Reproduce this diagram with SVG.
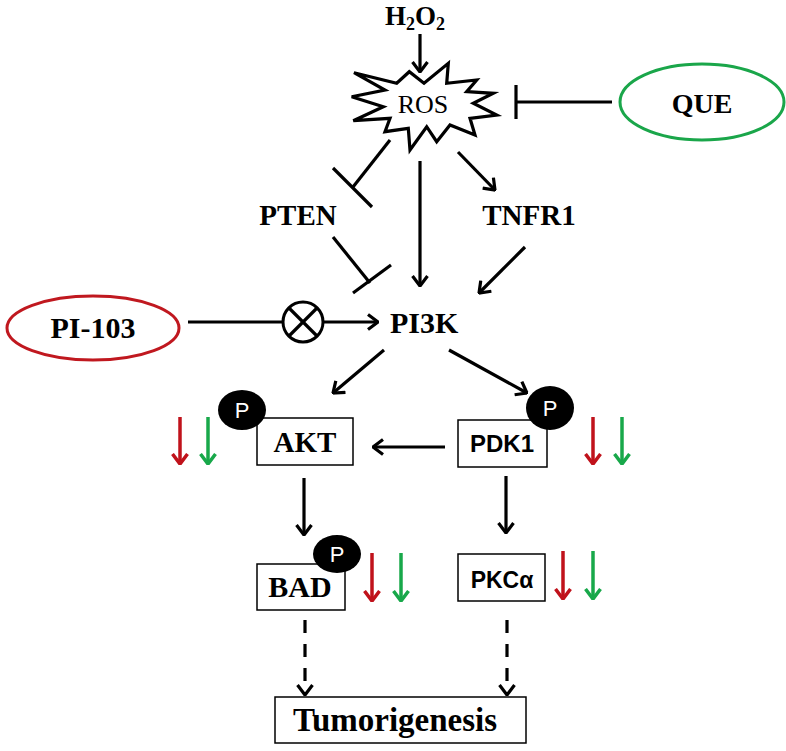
<svg xmlns="http://www.w3.org/2000/svg" width="786" height="751" viewBox="0 0 786 751">
<style>
  .lbl{font-family:"Liberation Serif","Times New Roman",serif;font-weight:bold;fill:#000;}
  .sans{font-family:"Liberation Sans",Arial,sans-serif;font-weight:bold;fill:#000;}
  .ln{stroke:#000;stroke-width:3.2;fill:none;}
  .box{fill:#fff;stroke:#000;stroke-width:1.5;}
  .pc{fill:#000;}
  .pt{font-family:"Liberation Sans",Arial,sans-serif;font-size:22px;fill:#fff;text-anchor:middle;}
  .red{stroke:#c0121b;stroke-width:3.5;fill:none;}
  .grn{stroke:#18a84a;stroke-width:3.5;fill:none;}
</style>
<defs>
  <marker id="ah" viewBox="0 0 12 18" refX="11" refY="9" markerWidth="12" markerHeight="18" markerUnits="userSpaceOnUse" orient="auto">
    <path d="M1,1.5 L11,9 L1,16.5" fill="none" stroke="#000" stroke-width="3.2"/>
  </marker>
  <marker id="ahr" viewBox="0 0 12 18" refX="11" refY="9" markerWidth="12" markerHeight="18" markerUnits="userSpaceOnUse" orient="auto">
    <path d="M1,1.5 L11,9 L1,16.5" fill="none" stroke="#c0121b" stroke-width="3.5"/>
  </marker>
  <marker id="ahg" viewBox="0 0 12 18" refX="11" refY="9" markerWidth="12" markerHeight="18" markerUnits="userSpaceOnUse" orient="auto">
    <path d="M1,1.5 L11,9 L1,16.5" fill="none" stroke="#18a84a" stroke-width="3.5"/>
  </marker>
</defs>
<rect width="786" height="751" fill="#fff"/>

<g id="connectors">
  <line class="ln" x1="420" y1="34" x2="420" y2="72" marker-end="url(#ah)"/>
  <!-- QUE inhibits ROS -->
  <line class="ln" x1="612" y1="102" x2="516" y2="102"/>
  <line class="ln" x1="516" y1="85" x2="516" y2="119"/>
  <!-- ROS inhibits PTEN -->
  <line class="ln" x1="390" y1="140" x2="353" y2="187"/>
  <line class="ln" x1="333" y1="168" x2="372" y2="207"/>
  <!-- PTEN inhibits PI3K -->
  <line class="ln" x1="333" y1="237" x2="370" y2="283"/>
  <line class="ln" x1="353" y1="293" x2="391" y2="265"/>
  <!-- ROS -> PI3K -->
  <line class="ln" x1="420" y1="161" x2="420" y2="286" marker-end="url(#ah)"/>
  <!-- ROS -> TNFR1 -->
  <line class="ln" x1="458" y1="152" x2="495" y2="190" marker-end="url(#ah)"/>
  <!-- TNFR1 -> PI3K -->
  <line class="ln" x1="525" y1="247" x2="479" y2="293" marker-end="url(#ah)"/>
  <!-- PI-103 -> X -> PI3K -->
  <line class="ln" x1="188" y1="322" x2="283" y2="322"/>
  <line class="ln" x1="323" y1="322" x2="378" y2="322" marker-end="url(#ah)"/>
  <!-- PI3K -> AKT / PDK1 -->
  <line class="ln" x1="384" y1="350" x2="333" y2="393" marker-end="url(#ah)"/>
  <line class="ln" x1="449" y1="350" x2="527" y2="393" marker-end="url(#ah)"/>
  <!-- PDK1 -> AKT -->
  <line class="ln" x1="445" y1="447" x2="373" y2="447" marker-end="url(#ah)"/>
  <!-- AKT -> BAD, PDK1 -> PKCa -->
  <line class="ln" x1="304" y1="478" x2="304" y2="535" marker-end="url(#ah)"/>
  <line class="ln" x1="506" y1="476" x2="506" y2="533" marker-end="url(#ah)"/>
  <!-- dashed to Tumorigenesis -->
  <line class="ln" x1="305" y1="620" x2="305" y2="695" stroke-dasharray="13 11" marker-end="url(#ah)"/>
  <line class="ln" x1="507" y1="620" x2="507" y2="695" stroke-dasharray="13 11" marker-end="url(#ah)"/>
</g>

<g id="inhibX">
  <circle cx="303" cy="322" r="20" fill="#fff" stroke="#000" stroke-width="3"/>
  <line class="ln" x1="289" y1="308" x2="317" y2="336"/>
  <line class="ln" x1="317" y1="308" x2="289" y2="336"/>
</g>

<g id="h2o2">
  <text class="lbl" x="385" y="25" font-size="27">H<tspan font-size="18" dy="5">2</tspan><tspan dy="-5">O</tspan><tspan font-size="18" dy="5">2</tspan></text>
</g>

<g id="ros">
  <polygon points="354,72.7 396.7,83.3 409.3,71.7 424,83.3 448.3,63.3 446.7,83.3 476.7,80 466.7,91.7 493.3,93.3 473.3,103.3 496.7,115 470,118.3 475,135 450,125 436.7,141.7 426.7,126.7 410,150 408.3,128.3 385,131.7 390,118.3 353.3,120.7 383.3,106.7 351.7,96.7 385,90" fill="#fff" stroke="#000" stroke-width="3.2" stroke-linejoin="miter"/>
  <text x="423" y="113" font-family="'Liberation Serif','Times New Roman',serif" font-size="26" text-anchor="middle">ROS</text>
</g>

<g id="que">
  <ellipse cx="702" cy="102" rx="82" ry="38" fill="#fff" stroke="#1aa64a" stroke-width="3"/>
  <text class="lbl" x="702" y="113" font-size="28" text-anchor="middle">QUE</text>
</g>

<g id="pten">
  <text class="lbl" x="298" y="225" font-size="29" text-anchor="middle">PTEN</text>
</g>

<g id="tnfr1">
  <text class="lbl" x="529" y="225" font-size="29" text-anchor="middle">TNFR1</text>
</g>

<g id="pi103">
  <ellipse cx="93" cy="328" rx="86" ry="32" fill="#fff" stroke="#c0181f" stroke-width="3"/>
  <text class="lbl" x="93" y="338" font-size="30" text-anchor="middle">PI-103</text>
</g>

<g id="pi3k">
  <text class="lbl" x="390" y="333" font-size="30">PI3K</text>
</g>

<g id="akt">
  <rect class="box" x="257" y="418" width="96" height="47"/>
  <text class="lbl" x="305" y="452" font-size="29" text-anchor="middle">AKT</text>
  <ellipse class="pc" cx="242" cy="410" rx="24" ry="20"/>
  <text class="pt" x="242" y="418">P</text>
  <line class="red" x1="180" y1="417" x2="180" y2="464" marker-end="url(#ahr)"/>
  <line class="grn" x1="208" y1="417" x2="208" y2="464" marker-end="url(#ahg)"/>
</g>

<g id="pdk1">
  <rect class="box" x="458" y="420" width="89" height="47"/>
  <text class="sans" x="502" y="452" font-size="24" text-anchor="middle">PDK1</text>
  <ellipse class="pc" cx="550" cy="408" rx="24" ry="22"/>
  <text class="pt" x="550" y="416">P</text>
  <line class="red" x1="593" y1="417" x2="593" y2="464" marker-end="url(#ahr)"/>
  <line class="grn" x1="622" y1="417" x2="622" y2="464" marker-end="url(#ahg)"/>
</g>

<g id="bad">
  <rect class="box" x="257" y="564" width="88" height="46"/>
  <text class="lbl" x="300" y="597" font-size="30" text-anchor="middle">BAD</text>
  <ellipse class="pc" cx="337" cy="554" rx="24" ry="19"/>
  <text class="pt" x="337" y="562">P</text>
  <line class="red" x1="372" y1="553" x2="372" y2="601" marker-end="url(#ahr)"/>
  <line class="grn" x1="401" y1="553" x2="401" y2="601" marker-end="url(#ahg)"/>
</g>

<g id="pkca">
  <rect class="box" x="458" y="554" width="87" height="47"/>
  <text class="sans" x="502" y="588" font-size="23" text-anchor="middle">PKCα</text>
  <line class="red" x1="563" y1="551" x2="563" y2="599" marker-end="url(#ahr)"/>
  <line class="grn" x1="593" y1="551" x2="593" y2="599" marker-end="url(#ahg)"/>
</g>

<g id="tumorigenesis">
  <rect class="box" x="275" y="697" width="251" height="46"/>
  <text class="lbl" x="395" y="731" font-size="33" text-anchor="middle">Tumorigenesis</text>
</g>
</svg>
